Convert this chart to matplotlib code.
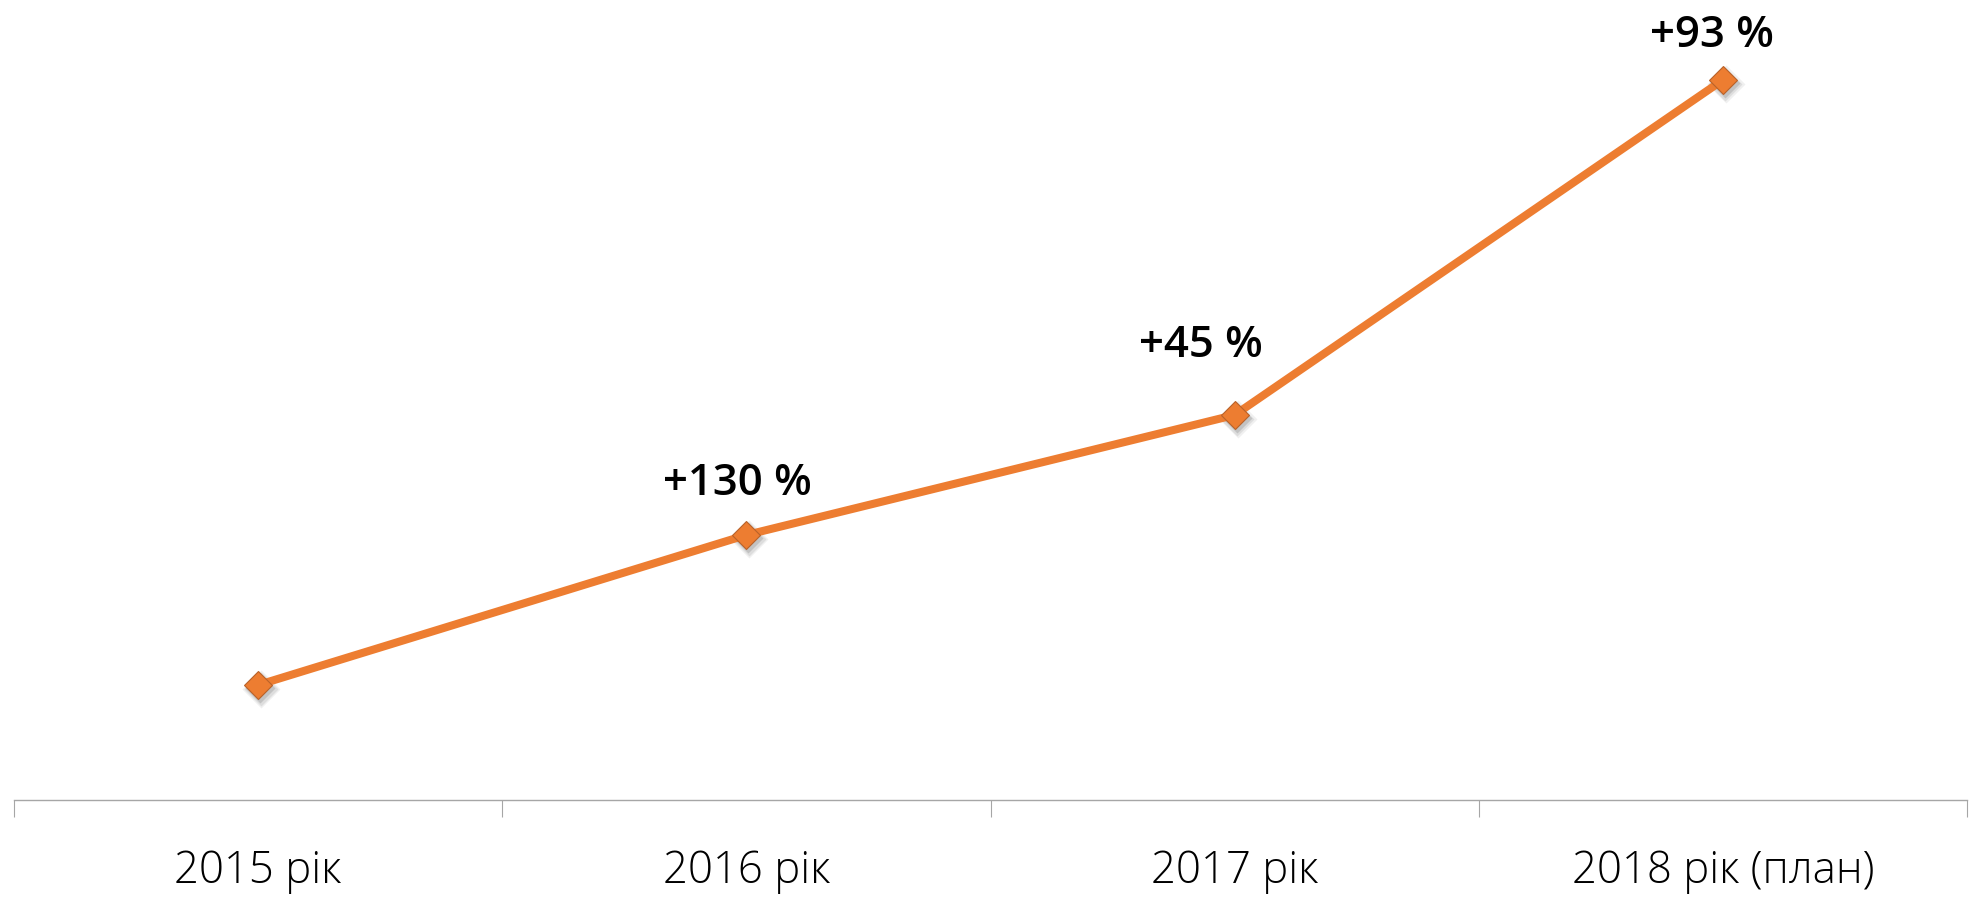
import matplotlib
matplotlib.use("Agg")
import matplotlib.pyplot as plt
from matplotlib.transforms import offset_copy

categories = ["2015 рік", "2016 рік", "2017 рік", "2018 рік (план)"]
values = [115, 265, 385, 720]
labels = ["", "+130 %", "+45 %", "+93 %"]
label_offsets_px = [(0, 0), (-9, 40), (-34, 58), (-11, 33)]

W, H, DPI = 1972, 901, 100
fig = plt.figure(figsize=(W / DPI, H / DPI), dpi=DPI)
ax = fig.add_axes([14 / W, 1 - 800 / H, (1967 - 14) / W, 800 / H])

orange = "#ED7D31"
x = list(range(len(categories)))

# soft shadow for markers
for k, (dx, dy, a, ms) in enumerate([(3, -4, 0.06, 19), (2.5, -3.5, 0.08, 17), (2, -3, 0.12, 15)]):
    tr = offset_copy(ax.transData, fig=fig, x=dx, y=dy, units="dots")
    ax.plot(x, values, linestyle="none", marker="D", markersize=ms,
            markerfacecolor="black", markeredgecolor="none", alpha=a, transform=tr, zorder=2)

ax.plot(x, values, color=orange, linewidth=5.8, solid_capstyle="butt", zorder=3)
ax.plot(x, values, linestyle="none", marker="D", markersize=14,
        markerfacecolor=orange, markeredgecolor="#b8622a", markeredgewidth=0.8, zorder=4)

for xi, v, lab, (dx, dy) in zip(x, values, labels, label_offsets_px):
    if lab:
        ax.annotate(lab, (xi, v), xytext=(dx * 0.72, dy * 0.72), textcoords="offset points",
                    ha="center", va="baseline", fontsize=31.5, fontweight="semibold",
                    family="Open Sans", color="black", zorder=5)

ax.set_xlim(-0.5, len(categories) - 0.5)
ax.set_ylim(0, 800)
ax.set_xticks(x)
ax.set_xticklabels(categories, fontsize=31.5, family="Open Sans", fontweight="light")
ax.set_xticks([i - 0.5 for i in range(len(categories) + 1)], minor=True)
ax.tick_params(axis="x", which="major", length=0, pad=36)
ax.tick_params(axis="x", which="minor", length=12.2, width=0.8, color="#a6a6a6", direction="out")
ax.set_yticks([])
for s in ["top", "left", "right"]:
    ax.spines[s].set_visible(False)
ax.spines["bottom"].set_color("#a6a6a6")
ax.spines["bottom"].set_linewidth(1)
ax.patch.set_alpha(0)

fig.savefig("out.png", dpi=DPI)
